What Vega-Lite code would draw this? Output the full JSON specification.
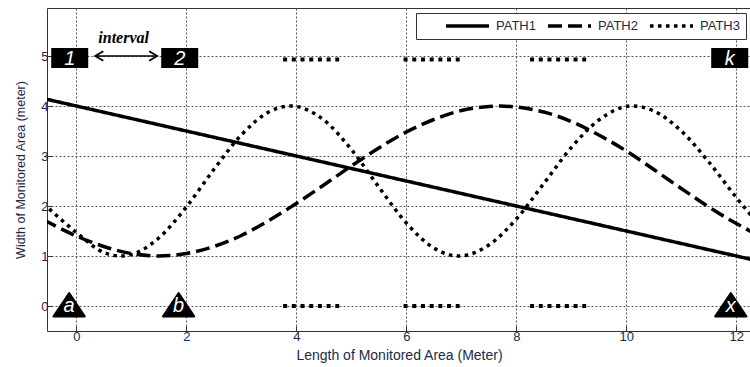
{
  "$schema": "https://vega.github.io/schema/vega-lite/v6.json",
  "width": 704,
  "height": 323,
  "autosize": {"type": "none"},
  "padding": {"left": 47, "top": 8, "right": 0, "bottom": 36},
  "background": "white",
  "config": {
    "view": {"stroke": "#333", "strokeWidth": 1},
    "font": "Liberation Sans",
    "axis": {
      "labelFont": "Liberation Sans", "labelFontSize": 13, "labelColor": "#1e2a44",
      "titleFont": "Liberation Sans", "titleFontSize": 12.5, "titleFontWeight": "normal", "titleColor": "#1e2a44",
      "grid": true, "gridColor": "#555", "gridDash": [2, 2], "gridWidth": 1,
      "domain": false, "tickColor": "#333", "tickSize": -5, "labelPadding": 4
    }
  },
  "datasets": {
    "curves": [
      {"series": "PATH1", "x": -0.6, "y": 4.15},
      {"series": "PATH1", "x": 12.5, "y": 0.875},
      {"series": "PATH2", "x": -0.6, "y": 1.73},
      {"series": "PATH2", "x": -0.5, "y": 1.67},
      {"series": "PATH2", "x": 0, "y": 1.4},
      {"series": "PATH2", "x": 0.5, "y": 1.19},
      {"series": "PATH2", "x": 1, "y": 1.05},
      {"series": "PATH2", "x": 1.5, "y": 1.0},
      {"series": "PATH2", "x": 2, "y": 1.05},
      {"series": "PATH2", "x": 2.5, "y": 1.19},
      {"series": "PATH2", "x": 3, "y": 1.41},
      {"series": "PATH2", "x": 3.5, "y": 1.71},
      {"series": "PATH2", "x": 4, "y": 2.05},
      {"series": "PATH2", "x": 4.5, "y": 2.42},
      {"series": "PATH2", "x": 5, "y": 2.8},
      {"series": "PATH2", "x": 5.5, "y": 3.16},
      {"series": "PATH2", "x": 6, "y": 3.48},
      {"series": "PATH2", "x": 6.5, "y": 3.73},
      {"series": "PATH2", "x": 7, "y": 3.91},
      {"series": "PATH2", "x": 7.5, "y": 3.99},
      {"series": "PATH2", "x": 7.7, "y": 4.0},
      {"series": "PATH2", "x": 8, "y": 3.98},
      {"series": "PATH2", "x": 8.5, "y": 3.88},
      {"series": "PATH2", "x": 9, "y": 3.69},
      {"series": "PATH2", "x": 9.5, "y": 3.42},
      {"series": "PATH2", "x": 10, "y": 3.1},
      {"series": "PATH2", "x": 10.5, "y": 2.73},
      {"series": "PATH2", "x": 11, "y": 2.35},
      {"series": "PATH2", "x": 11.5, "y": 1.98},
      {"series": "PATH2", "x": 12, "y": 1.65},
      {"series": "PATH2", "x": 12.5, "y": 1.36},
      {"series": "PATH3", "x": -0.6, "y": 2.05},
      {"series": "PATH3", "x": -0.5, "y": 1.95},
      {"series": "PATH3", "x": 0, "y": 1.47},
      {"series": "PATH3", "x": 0.5, "y": 1.07},
      {"series": "PATH3", "x": 0.8, "y": 1.0},
      {"series": "PATH3", "x": 1, "y": 1.03},
      {"series": "PATH3", "x": 1.5, "y": 1.36},
      {"series": "PATH3", "x": 2, "y": 1.98},
      {"series": "PATH3", "x": 2.5, "y": 2.73},
      {"series": "PATH3", "x": 3, "y": 3.42},
      {"series": "PATH3", "x": 3.5, "y": 3.88},
      {"series": "PATH3", "x": 3.9, "y": 4.0},
      {"series": "PATH3", "x": 4.5, "y": 3.72},
      {"series": "PATH3", "x": 5, "y": 3.13},
      {"series": "PATH3", "x": 5.5, "y": 2.38},
      {"series": "PATH3", "x": 6, "y": 1.66},
      {"series": "PATH3", "x": 6.5, "y": 1.16},
      {"series": "PATH3", "x": 6.95, "y": 1.0},
      {"series": "PATH3", "x": 7.5, "y": 1.22},
      {"series": "PATH3", "x": 8, "y": 1.74},
      {"series": "PATH3", "x": 8.5, "y": 2.45},
      {"series": "PATH3", "x": 9, "y": 3.17},
      {"series": "PATH3", "x": 9.5, "y": 3.72},
      {"series": "PATH3", "x": 10.1, "y": 4.0},
      {"series": "PATH3", "x": 10.5, "y": 3.9},
      {"series": "PATH3", "x": 11, "y": 3.5},
      {"series": "PATH3", "x": 11.5, "y": 2.88},
      {"series": "PATH3", "x": 12, "y": 2.17},
      {"series": "PATH3", "x": 12.5, "y": 1.52}
    ],
    "strips": [
      {"strip": "t1", "x": 3.76, "y": 4.93}, {"strip": "t1", "x": 4.78, "y": 4.93},
      {"strip": "t2", "x": 5.95, "y": 4.93}, {"strip": "t2", "x": 6.97, "y": 4.93},
      {"strip": "t3", "x": 8.25, "y": 4.93}, {"strip": "t3", "x": 9.27, "y": 4.93},
      {"strip": "b1", "x": 3.76, "y": 0}, {"strip": "b1", "x": 4.78, "y": 0},
      {"strip": "b2", "x": 5.95, "y": 0}, {"strip": "b2", "x": 6.97, "y": 0},
      {"strip": "b3", "x": 8.25, "y": 0}, {"strip": "b3", "x": 9.27, "y": 0}
    ],
    "boxes": [
      {"x": -0.12, "y": 4.96, "label": "1"},
      {"x": 1.88, "y": 4.96, "label": "2"},
      {"x": 11.88, "y": 4.96, "label": "k"}
    ],
    "tris": [
      {"x": -0.13, "y": 0, "label": "a"},
      {"x": 1.86, "y": 0, "label": "b"},
      {"x": 11.9, "y": 0, "label": "x"}
    ],
    "arrow": [{"x": 0.345, "x2": 1.47, "y": 5}],
    "heads": [
      {"x": 0.345, "y": 5, "dir": "left"},
      {"x": 1.47, "y": 5, "dir": "right"}
    ],
    "notes": [{"x": 0.86, "y": 5.36, "label": "interval"}]
  },
  "encoding": {
    "x": {
      "field": "x", "type": "quantitative",
      "scale": {"domain": [-0.533, 12.267], "nice": false, "zero": false},
      "axis": {"values": [0, 2, 4, 6, 8, 10, 12], "title": "Length of Monitored Area (Meter)", "titleFontSize": 14, "titlePadding": 5}
    },
    "y": {
      "field": "y", "type": "quantitative",
      "scale": {"domain": [-0.5, 5.96], "nice": false, "zero": false},
      "axis": {"values": [0, 1, 2, 3, 4, 5], "title": "Width of Monitored Area (meter)", "titlePadding": 13}
    }
  },
  "layer": [
    {
      "data": {"name": "curves"},
      "mark": {"type": "line", "color": "black", "strokeWidth": 3.5, "clip": true, "interpolate": "monotone", "strokeCap": "butt"},
      "encoding": {
        "strokeDash": {
          "field": "series", "type": "nominal",
          "scale": {"domain": ["PATH1", "PATH2", "PATH3"], "range": [[1, 0], [14, 6], [3.5, 4.5]]},
          "legend": {
            "title": " ", "titleOrient": "left", "titleFontSize": 1, "titlePadding": 22,
            "orient": "top-right", "direction": "horizontal",
            "symbolType": "stroke", "symbolSize": 1849, "symbolStrokeWidth": 3.5, "symbolStrokeColor": "black",
            "clipHeight": 14,
            "labelFont": "Liberation Sans", "labelFontSize": 13, "labelColor": "#1e2a44",
            "fillColor": "white", "strokeColor": "#333", "padding": 6, "offset": 5,
            "columnPadding": 10, "labelOffset": 5
          }
        }
      }
    },
    {
      "data": {"name": "strips"},
      "mark": {"type": "line", "color": "black", "strokeWidth": 4, "strokeDash": [4, 4.7], "strokeCap": "butt"},
      "encoding": {"detail": {"field": "strip", "type": "nominal"}}
    },
    {
      "data": {"name": "boxes"},
      "mark": {"type": "point", "shape": "M-1,-0.54L1,-0.54L1,0.54L-1,0.54Z", "size": 1369, "filled": true, "color": "black", "opacity": 1}
    },
    {
      "data": {"name": "boxes"},
      "mark": {"type": "text", "color": "white", "font": "Liberation Sans", "fontSize": 20, "fontStyle": "italic", "baseline": "middle", "align": "center", "dy": 1},
      "encoding": {"text": {"field": "label"}}
    },
    {
      "data": {"name": "tris"},
      "mark": {"type": "point", "shape": "M0,-1L1.2,0.8L-1.2,0.8Z", "size": 676, "filled": true, "color": "black", "stroke": "black", "strokeWidth": 2, "strokeJoin": "round", "opacity": 1}
    },
    {
      "data": {"name": "tris"},
      "mark": {"type": "text", "color": "white", "font": "Liberation Sans", "fontSize": 20, "fontStyle": "italic", "baseline": "middle", "align": "center", "dy": 0},
      "encoding": {"text": {"field": "label"}}
    },
    {
      "data": {"name": "arrow"},
      "mark": {"type": "rule", "color": "black", "strokeWidth": 1.5},
      "encoding": {"x2": {"field": "x2"}}
    },
    {
      "data": {"name": "heads"},
      "mark": {"type": "point", "filled": false, "color": "black", "strokeWidth": 1.8, "size": 64, "opacity": 1},
      "encoding": {
        "shape": {
          "field": "dir", "type": "nominal",
          "scale": {"domain": ["left", "right"], "range": ["M2,-1.2L0,0L2,1.2", "M-2,-1.2L0,0L-2,1.2"]},
          "legend": null
        }
      }
    },
    {
      "data": {"name": "notes"},
      "mark": {"type": "text", "color": "black", "font": "Liberation Serif", "fontSize": 16, "fontStyle": "italic", "fontWeight": "bold", "baseline": "middle", "align": "center"},
      "encoding": {"text": {"field": "label"}}
    }
  ]
}
